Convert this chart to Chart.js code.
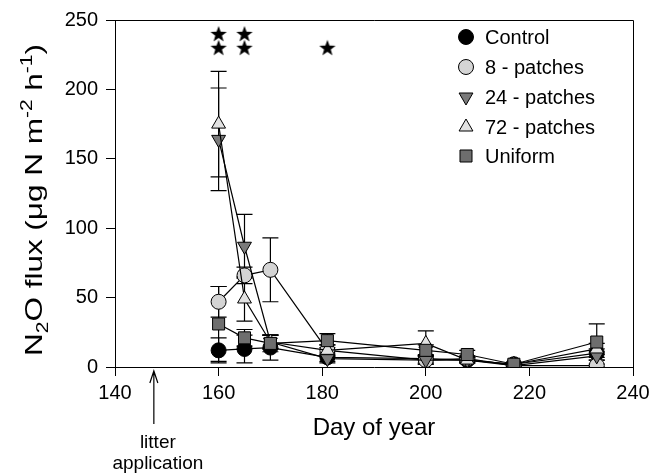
<!DOCTYPE html>
<html>
<head>
<meta charset="utf-8">
<script src="https://cdn.jsdelivr.net/npm/chart.js@4.4.1/dist/chart.umd.min.js"></script>
<style>
html,body{margin:0;padding:0;background:#fff;}
canvas{display:block;}
</style>
</head>
<body>
<canvas id="c" width="664" height="475"></canvas>
<script>
// ---- data ----
const days = [160, 165, 170, 181, 200, 208, 217, 233];
const control    = [12, 13, 14, 7, 6, 5, 2, 10];
const controlErr = [9, 10, 9, 3, 3, 2, 1, 3];
const patch8     = [47, 66, 70, 12, 5, 6, 1, 1];
const patch8Err  = [11, 6, 23, 4, 3, 2, 1, 1];
const patch24    = [164, 87, 18, 6, 5, 5, 1, 8];
const patch24Err = [37, 23, 5, 3, 3, 2, 1, 3];
const patch72    = [175, 49, 18, 12, 17, 5, 2, 13];
const patch72Err = [38, 16, 5, 4, 9, 2, 1, 4];
const uniform    = [31, 21, 17, 19, 12, 9, 2, 18];
const uniformErr = [27, 6, 6, 5, 4, 3, 1, 13];
const starDays   = [160, 160, 165, 165, 181];
const starLevels = [240, 230, 240, 230, 230];
const xTicks = [140, 160, 180, 200, 220, 240];
const yTicks = [0, 50, 100, 150, 200, 250];
const seriesNames = ['Control', '8 - patches', '24 - patches', '72 - patches', 'Uniform'];
const arrowDay = 147.5;

const FONT = "'Liberation Sans', Arial, Helvetica, sans-serif";

function pts(vals) { return days.map((d, i) => ({x: d, y: vals[i]})); }

// filled five-point star image for the significance markers
const starImg = document.createElement('canvas');
starImg.width = 18; starImg.height = 18;
(function () {
  const g = starImg.getContext('2d');
  g.fillStyle = '#000';
  g.beginPath();
  for (let k = 0; k < 10; k++) {
    const r = k % 2 === 0 ? 8.6 : 3.5;
    const a = -Math.PI / 2 + k * Math.PI / 5;
    const px = 9 + r * Math.cos(a), py = 9.6 + r * Math.sin(a);
    if (k === 0) g.moveTo(px, py); else g.lineTo(px, py);
  }
  g.closePath(); g.fill();
})();

const base = {borderColor: '#000', borderWidth: 1.2, pointBorderColor: '#000', pointBorderWidth: 1, fill: false, tension: 0};
const datasets = [
  Object.assign({}, base, {label: seriesNames[0], data: pts(control), errors: controlErr, pointStyle: 'circle', pointRadius: 7.5, pointBackgroundColor: '#000000', order: 5}),
  Object.assign({}, base, {label: seriesNames[1], data: pts(patch8), errors: patch8Err, pointStyle: 'circle', pointRadius: 7.5, pointBackgroundColor: '#d4d4d4', order: 4}),
  Object.assign({}, base, {label: seriesNames[2], data: pts(patch24), errors: patch24Err, pointStyle: 'triangle', pointRotation: 180, pointRadius: 8, pointBackgroundColor: '#7a7a7a', order: 3}),
  Object.assign({}, base, {label: seriesNames[3], data: pts(patch72), errors: patch72Err, pointStyle: 'triangle', pointRadius: 8, pointBackgroundColor: '#e2e2e2', order: 2}),
  Object.assign({}, base, {label: seriesNames[4], data: pts(uniform), errors: uniformErr, pointStyle: 'rect', pointRadius: 8.5, pointBackgroundColor: '#6e6e6e', order: 1}),
  {label: 'stars', data: starDays.map((d, i) => ({x: d, y: starLevels[i]})), showLine: false, pointStyle: starImg, pointRadius: 9, order: 0, isStar: true}
];

const errPlugin = {
  id: 'errbars',
  beforeDatasetsDraw(chart) {
    const ctx = chart.ctx, xs = chart.scales.x, ys = chart.scales.y;
    ctx.save();
    ctx.strokeStyle = '#000'; ctx.lineWidth = 1.2;
    chart.data.datasets.forEach(ds => {
      if (!ds.errors) return;
      ds.data.forEach((p, i) => {
        const e = ds.errors[i];
        if (!e) return;
        const x = xs.getPixelForValue(p.x);
        const yt = ys.getPixelForValue(p.y + e);
        const yb = ys.getPixelForValue(Math.max(0, p.y - e));
        ctx.beginPath();
        ctx.moveTo(x, yt); ctx.lineTo(x, yb);
        ctx.moveTo(x - 8, yt); ctx.lineTo(x + 8, yt);
        ctx.moveTo(x - 8, yb); ctx.lineTo(x + 8, yb);
        ctx.stroke();
      });
    });
    ctx.restore();
  }
};

const decoPlugin = {
  id: 'deco',
  afterDraw(chart) {
    const ctx = chart.ctx, a = chart.chartArea, xs = chart.scales.x;
    ctx.save();
    // frame (top and right)
    ctx.strokeStyle = '#000'; ctx.lineWidth = 1;
    ctx.beginPath();
    ctx.moveTo(a.left, a.top + 0.5); ctx.lineTo(a.right + 0.5, a.top + 0.5); ctx.lineTo(a.right + 0.5, a.bottom);
    ctx.stroke();

    // legend
    ctx.font = '20px ' + FONT; ctx.fillStyle = '#000'; ctx.textBaseline = 'middle'; ctx.textAlign = 'left';
    const rows = [37, 67, 97, 127, 156];
    datasets.slice(0, 5).forEach((ds, i) => {
      ctx.save();
      ctx.fillStyle = ds.pointBackgroundColor; ctx.strokeStyle = '#000'; ctx.lineWidth = 1;
      Chart.helpers.drawPoint(ctx, {pointStyle: ds.pointStyle, radius: ds.pointRadius, rotation: ds.pointRotation || 0, borderWidth: 1}, 466, rows[i]);
      ctx.restore();
      ctx.fillStyle = '#000';
      ctx.fillText(ds.label, 485, rows[i] + 1);
    });

    // x title
    ctx.textAlign = 'center'; ctx.textBaseline = 'alphabetic';
    ctx.font = '24px ' + FONT;
    ctx.fillText('Day of year', (a.left + a.right) / 2, 435);

    // litter application arrow
    const ax = xs.getPixelForValue(arrowDay);
    ctx.lineWidth = 1.2;
    ctx.beginPath();
    ctx.moveTo(ax, 371); ctx.lineTo(ax, 424);
    ctx.moveTo(ax - 4, 383); ctx.lineTo(ax, 371); ctx.lineTo(ax + 4, 383);
    ctx.stroke();
    ctx.font = '19px ' + FONT;
    ctx.textBaseline = 'alphabetic';
    ctx.fillText('litter', ax + 4, 448);
    ctx.fillText('application', ax + 4, 469);

    // y title with sub/superscripts, rotated
    const segs = [['N', 0], ['2', 1], ['O flux (\u03bcg N m', 0], ['-2', -1], [' h', 0], ['-1', -1], [')', 0]];
    const big = '24px ' + FONT, small = '16px ' + FONT;
    let total = 0;
    segs.forEach(s => { ctx.font = s[1] ? small : big; total += ctx.measureText(s[0]).width; });
    const targetLen = 312;
    const sx = targetLen / total;
    ctx.translate(42, 200);
    ctx.rotate(-Math.PI / 2);
    ctx.scale(sx, 1);
    ctx.textAlign = 'left'; ctx.textBaseline = 'alphabetic';
    let cx = -total / 2;
    segs.forEach(s => {
      ctx.font = s[1] ? small : big;
      const dy = s[1] === 1 ? 6 : (s[1] === -1 ? -10 : 0);
      ctx.fillText(s[0], cx, dy);
      cx += ctx.measureText(s[0]).width;
    });
    ctx.restore();
  }
};

new Chart(document.getElementById('c'), {
  type: 'line',
  data: {datasets: datasets},
  options: {
    responsive: false,
    devicePixelRatio: 1,
    animation: false,
    layout: {padding: {left: 0, right: 31, top: 15, bottom: 0}},
    plugins: {legend: {display: false}, tooltip: {enabled: false}},
    scales: {
      x: {
        type: 'linear', min: 140, max: 240,
        afterBuildTicks: s => { s.ticks = xTicks.map(v => ({value: v})); },
        afterFit: s => { s.height = 108; },
        grid: {drawOnChartArea: false, drawTicks: true, tickLength: 9, color: '#000', lineWidth: 1},
        border: {color: '#000', width: 1},
        ticks: {color: '#000', font: {size: 20, family: FONT}, padding: 5, maxRotation: 0}
      },
      y: {
        type: 'linear', min: 0, max: 250,
        afterBuildTicks: s => { s.ticks = yTicks.map(v => ({value: v})); },
        afterFit: s => { s.width = 115; },
        grid: {drawOnChartArea: false, drawTicks: true, tickLength: 9, color: '#000', lineWidth: 1},
        border: {color: '#000', width: 1},
        ticks: {color: '#000', font: {size: 20, family: FONT}, padding: 8}
      }
    }
  },
  plugins: [errPlugin, decoPlugin]
});
</script>
</body>
</html>
